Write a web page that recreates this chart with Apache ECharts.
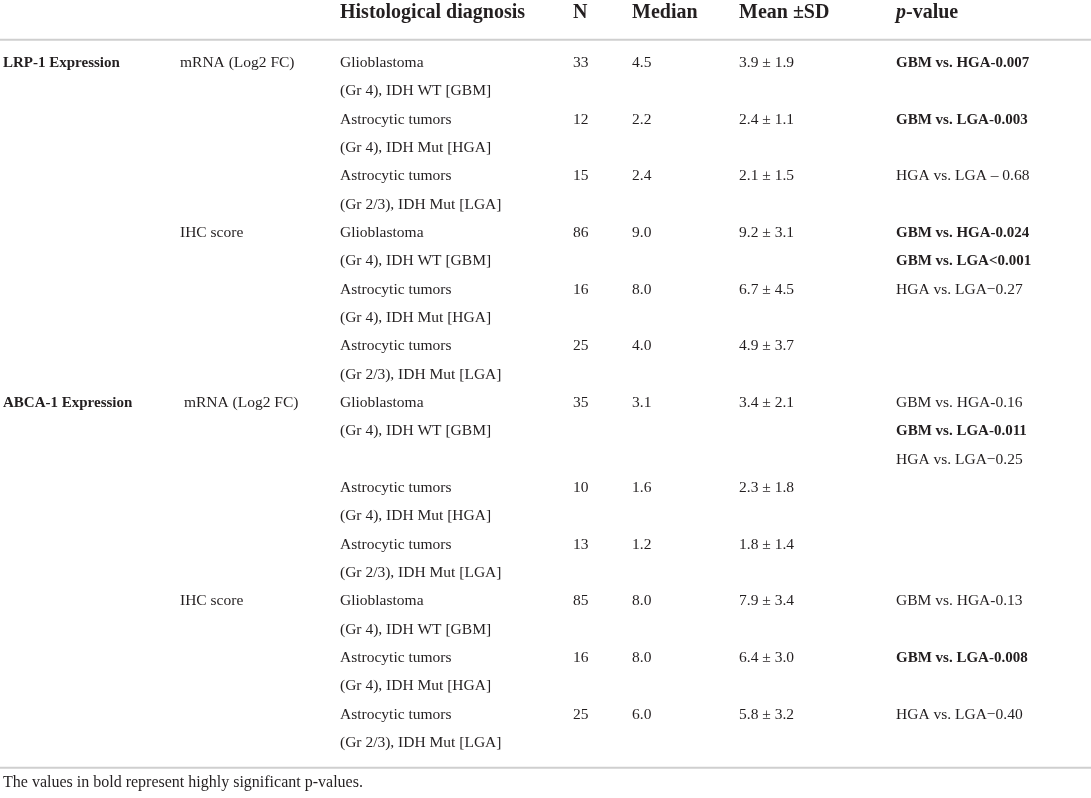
<!DOCTYPE html>
<html lang="en">

<head>
    <meta charset="UTF-8">
    <title>LRP-1 / ABCA-1 expression</title>
    <script src="https://cdn.jsdelivr.net/npm/echarts@6/dist/echarts.min.js"></script>
</head>

<body style="margin:0;background-color:#ffffff;">
    <div id="main" style="position:absolute;left:0;top:0;width:1091px;height:798px"></div>

    <script>
        // ---- table data ----
        var headers = ['', '', 'Histological diagnosis', 'N', 'Median', 'Mean \u00b1SD', '{i|p}-value'];

        var markers = ['LRP-1 Expression', 'ABCA-1 Expression'];
        var markerRows = [0, 12];

        var measures = ['mRNA (Log2 FC)', 'IHC score', ' mRNA (Log2 FC)', 'IHC score'];
        var measureRows = [0, 6, 12, 19];

        var diagnosisLines = [
            'Glioblastoma', '(Gr 4), IDH WT [GBM]',
            'Astrocytic tumors', '(Gr 4), IDH Mut [HGA]',
            'Astrocytic tumors', '(Gr 2/3), IDH Mut [LGA]',
            'Glioblastoma', '(Gr 4), IDH WT [GBM]',
            'Astrocytic tumors', '(Gr 4), IDH Mut [HGA]',
            'Astrocytic tumors', '(Gr 2/3), IDH Mut [LGA]',
            'Glioblastoma', '(Gr 4), IDH WT [GBM]', '',
            'Astrocytic tumors', '(Gr 4), IDH Mut [HGA]',
            'Astrocytic tumors', '(Gr 2/3), IDH Mut [LGA]',
            'Glioblastoma', '(Gr 4), IDH WT [GBM]',
            'Astrocytic tumors', '(Gr 4), IDH Mut [HGA]',
            'Astrocytic tumors', '(Gr 2/3), IDH Mut [LGA]'
        ];

        var groupRows = [0, 2, 4, 6, 8, 10, 12, 15, 17, 19, 21, 23];
        var nValues = [33, 12, 15, 86, 16, 25, 35, 10, 13, 85, 16, 25];
        var medians = ['4.5', '2.2', '2.4', '9.0', '8.0', '4.0', '3.1', '1.6', '1.2', '8.0', '8.0', '6.0'];
        var means = ['3.9', '2.4', '2.1', '9.2', '6.7', '4.9', '3.4', '2.3', '1.8', '7.9', '6.4', '5.8'];
        var sds = ['1.9', '1.1', '1.5', '3.1', '4.5', '3.7', '2.1', '1.8', '1.4', '3.4', '3.0', '3.2'];

        var pTexts = [
            'GBM vs. HGA-0.007', 'GBM vs. LGA-0.003', 'HGA vs. LGA \u2013 0.68',
            'GBM vs. HGA-0.024', 'GBM vs. LGA<0.001', 'HGA vs. LGA\u22120.27',
            'GBM vs. HGA-0.16', 'GBM vs. LGA-0.011', 'HGA vs. LGA\u22120.25',
            'GBM vs. HGA-0.13', 'GBM vs. LGA-0.008', 'HGA vs. LGA\u22120.40'
        ];
        var pRows = [0, 2, 4, 6, 7, 8, 12, 13, 14, 19, 21, 23];
        var pBold = [true, true, false, true, true, false, false, true, false, false, true, false];

        var footnote = 'The values in bold represent highly significant p-values.';

        // ---- layout (column left edges, special rows) ----
        var colX = [3, 180, 340, 573, 632, 739, 896];
        var headerRow = -1.78;
        var ruleRows = [-0.82, 24.87];
        var footRow = 25.4;

        var FONT = '"Liberation Serif", "DejaVu Serif", serif';
        var INK = '#231f20';

        // build cell list: [x, row, text, kind]
        var cells = [];
        headers.forEach(function(h, i) {
            if (h) cells.push([colX[i], headerRow, h, 'head']);
        });
        markers.forEach(function(m, i) {
            cells.push([colX[0], markerRows[i], m, 'bold']);
        });
        measures.forEach(function(m, i) {
            cells.push([colX[1], measureRows[i], m, 'body']);
        });
        diagnosisLines.forEach(function(t, r) {
            if (t) cells.push([colX[2], r, t, 'body']);
        });
        groupRows.forEach(function(r, i) {
            cells.push([colX[3], r, String(nValues[i]), 'body']);
            cells.push([colX[4], r, medians[i], 'body']);
            cells.push([colX[5], r, means[i] + ' \u00b1 ' + sds[i], 'body']);
        });
        pTexts.forEach(function(t, i) {
            cells.push([colX[6], pRows[i], t, pBold[i] ? 'bold' : 'body']);
        });
        cells.push([colX[0], footRow, footnote, 'foot']);

        var fonts = {
            head: 'bold 20px ' + FONT,
            bold: 'bold 15px ' + FONT,
            body: '15.5px ' + FONT,
            foot: '16px ' + FONT
        };

        var myCharts = echarts.init(document.getElementById('main'));
        myCharts.setOption({
            animation: false,
            grid: {
                left: 0,
                right: 0,
                top: 63,
                bottom: 55
            },
            xAxis: {
                type: 'value',
                min: 0,
                max: 1091,
                show: false
            },
            yAxis: {
                type: 'value',
                min: 0,
                max: 24,
                inverse: true,
                show: false
            },
            series: [{
                type: 'custom',
                clip: false,
                data: ruleRows.map(function(r) {
                    return [0, r];
                }),
                renderItem: function(params, api) {
                    var a = api.coord([0, api.value(1)]);
                    var b = api.coord([1091, api.value(1)]);
                    return {
                        type: 'line',
                        shape: {
                            x1: a[0],
                            y1: a[1],
                            x2: b[0],
                            y2: b[1]
                        },
                        style: {
                            stroke: '#cfcfcf',
                            lineWidth: 2
                        }
                    };
                }
            }, {
                type: 'custom',
                clip: false,
                data: cells,
                renderItem: function(params, api) {
                    var c = cells[params.dataIndex];
                    var p = api.coord([api.value(0), api.value(1)]);
                    return {
                        type: 'text',
                        x: p[0],
                        y: p[1],
                        style: {
                            text: c[2],
                            font: fonts[c[3]],
                            fill: INK,
                            align: 'left',
                            verticalAlign: 'middle',
                            rich: {
                                i: {
                                    font: 'italic bold 20px ' + FONT,
                                    fill: INK
                                }
                            }
                        }
                    };
                }
            }]
        });
    </script>
</body>

</html>
